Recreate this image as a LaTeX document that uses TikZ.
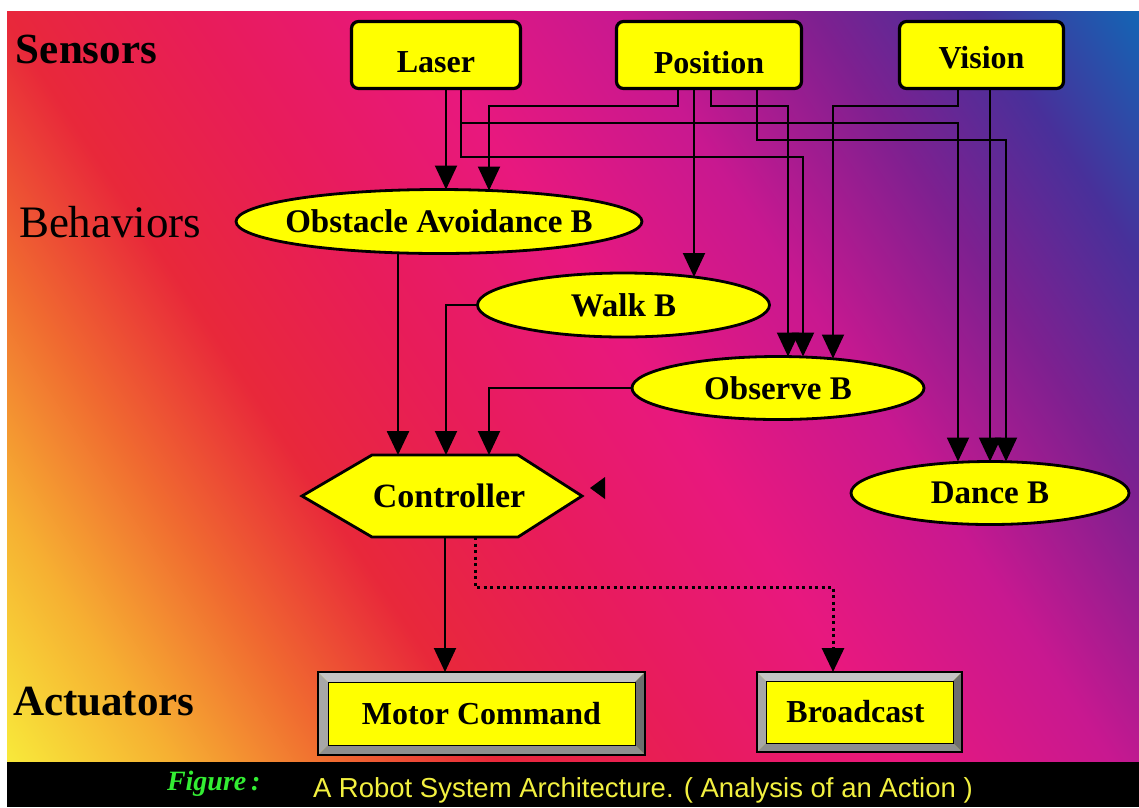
\documentclass[tikz,border=0pt]{standalone}
\usepackage{fontspec}
\setmainfont{Liberation Serif}
\newfontfamily\capfont{Liberation Sans}
\usetikzlibrary{arrows.meta,shapes.geometric}
\definecolor{ybox}{HTML}{FFFF00}
\definecolor{gA}{HTML}{F8E83A}
\definecolor{gB}{HTML}{F6B032}
\definecolor{gC}{HTML}{F06A30}
\definecolor{gD}{HTML}{E8283A}
\definecolor{gE}{HTML}{E81C5A}
\definecolor{gF}{HTML}{E8187E}
\definecolor{gG}{HTML}{C81890}
\definecolor{gH}{HTML}{7E2090}
\definecolor{gI}{HTML}{48309A}
\definecolor{gJ}{HTML}{1464B4}
\definecolor{bevlight}{HTML}{C4C4C4}
\definecolor{bevmid}{HTML}{8E8E8E}
\definecolor{bevdark}{HTML}{6E6E6E}
\definecolor{figgreen}{HTML}{33EE33}
\definecolor{capyellow}{HTML}{F2F040}
\pgfdeclarehorizontalshading{bgshade}{100bp}{color(0bp)=(gA); color(33bp)=(gA); color(36.4bp)=(gB); color(39.8bp)=(gC); color(43.2bp)=(gD); color(47.3bp)=(gE); color(51.7bp)=(gF); color(56.1bp)=(gG); color(60.2bp)=(gH); color(63.6bp)=(gI); color(67bp)=(gJ); color(100bp)=(gJ)}
\begin{document}
\begin{tikzpicture}[x=1pt,y=-1pt,
  every node/.style={inner sep=0pt, outer sep=0pt},
  sensorbox/.style={draw=black, fill=ybox, line width=3.2pt, rounded corners=7pt,
    minimum height=67pt, font=\fontsize{32}{38}\selectfont\bfseries},
  behav/.style={ellipse, draw=black, fill=ybox, line width=2.8pt,
    font=\fontsize{33}{40}\selectfont\bfseries},
  layerlabel/.style={anchor=base west, font=\fontsize{43}{50}\selectfont\bfseries},
  wire/.style={draw=black, line width=2pt, -{Triangle[width=22pt,length=24pt]}},
  dotwire/.style={wire, line width=3pt, dash pattern=on 3pt off 3.5pt},
  bevelbox/.style={fill=ybox, draw=black, line width=1.4pt,
    font=\fontsize{32}{38}\selectfont\bfseries,
    path picture={
      \fill[bevlight] (path picture bounding box.north west) -- (path picture bounding box.north east)
        -- ([shift={(-#1,-#1)}]path picture bounding box.north east)
        -- ([shift={(#1,-#1)}]path picture bounding box.north west) -- cycle;
      \fill[bevlight!85!black] (path picture bounding box.north west) -- (path picture bounding box.south west)
        -- ([shift={(#1,#1)}]path picture bounding box.south west)
        -- ([shift={(#1,-#1)}]path picture bounding box.north west) -- cycle;
      \fill[bevdark] (path picture bounding box.north east) -- (path picture bounding box.south east)
        -- ([shift={(-#1,#1)}]path picture bounding box.south east)
        -- ([shift={(-#1,-#1)}]path picture bounding box.north east) -- cycle;
      \fill[bevmid] (path picture bounding box.south west) -- (path picture bounding box.south east)
        -- ([shift={(-#1,#1)}]path picture bounding box.south east)
        -- ([shift={(#1,#1)}]path picture bounding box.south west) -- cycle;
      \draw[black, line width=0.8pt] ([shift={(#1,-#1)}]path picture bounding box.north west)
        rectangle ([shift={(-#1,#1)}]path picture bounding box.south east);
    }}
]
\useasboundingbox (0,0) rectangle (1139,807);
\fill[white] (0,0) rectangle (1139,807);
\begin{scope}
  \clip (7,11) rectangle (1139,762);
  \shade[shading=bgshade, shading angle=33.56] (-427,-613.5) rectangle (1573,1386.5);
\end{scope}
\fill[black] (7,762) rectangle (1139,807);

% layer labels
\node[layerlabel] (lsens) at (16,63) {Sensors};
\node[layerlabel, font=\fontsize{45}{50}\selectfont\mdseries] (lbeh) at (19,237) {Behaviors};
\node[layerlabel] (lact) at (13,715) {Actuators};

% sensors
\node[sensorbox, minimum width=169pt] (laser) at (436,55) {\raisebox{-17pt}[0pt][0pt]{Laser}};
\node[sensorbox, minimum width=185pt] (position) at (709,55) {\raisebox{-18pt}[0pt][0pt]{Position}};
\node[sensorbox, minimum width=164pt] (vision) at (981.5,55) {\raisebox{-13pt}[0pt][0pt]{Vision}};

% behaviors
\node[behav, minimum width=406pt, minimum height=64pt] (obst) at (439,221.5) {\makebox[0pt]{Obstacle Avoidance B}};
\node[behav, minimum width=292pt, minimum height=64pt] (walk) at (623.5,305) {\makebox[0pt]{Walk B}};
\node[behav, minimum width=292pt, minimum height=63pt] (observe) at (778,388) {\makebox[0pt]{Observe B}};
\node[behav, minimum width=278pt, minimum height=63pt] (dance) at (990,493) {\makebox[0pt]{Dance B}};

% controller
\node[minimum width=280pt, minimum height=82pt] (ctrl) at (442,496) {};
\filldraw[fill=ybox, draw=black, line width=2.8pt] (ctrl.west) -- ([xshift=-70pt]ctrl.north)
  -- ([xshift=76pt]ctrl.north) -- (ctrl.east) -- ([xshift=76pt]ctrl.south)
  -- ([xshift=-70pt]ctrl.south) -- cycle;
\node[font=\fontsize{34}{40}\selectfont\bfseries] (ctrltext) at ([xshift=7pt]ctrl.center) {Controller};
\fill[black] ([xshift=8pt,yshift=8pt]ctrl.east) -- ++(15,-11) -- ++(0,22) -- cycle;

% actuators
\node[bevelbox=10pt, minimum width=327pt, minimum height=83pt] (motor) at (481.5,713.5) {Motor Command};
\node[bevelbox=9pt, minimum width=205pt, minimum height=80pt] (bcast) at (859.5,712) {\hspace*{-8pt}Broadcast};

% sensor wires
\draw[wire] ([xshift=10pt]laser.south) -- ([xshift=7pt]obst.north);
\draw[wire] ([xshift=25pt]laser.south) -- ++(0,68.5) -| ([xshift=25pt]observe.north);
\draw[wire] ([xshift=25pt]laser.south) -- ++(0,34.5) -| ([xshift=-32pt]dance.north);
\draw[wire] ([xshift=-31pt]position.south) -- ++(0,17) -| ([xshift=50pt,yshift=-1pt]obst.north);
\draw[wire] ([xshift=-15pt]position.south) -- ([xshift=70.5pt,yshift=-4pt]walk.north);
\draw[wire] ([xshift=2pt]position.south) -- ++(0,17) -| ([xshift=10pt]observe.north);
\draw[wire] ([xshift=48pt]position.south) -- ++(0,51.5) -| ([xshift=16pt]dance.north);
\draw[wire] ([xshift=-23.5pt]vision.south) -- ++(0,17) -| ([xshift=55pt,yshift=-2pt]observe.north);
\draw[wire] ([xshift=8.5pt]vision.south) -- (dance.north);

% behavior wires
\draw[wire, line width=2.6pt] ([xshift=-41pt]obst.south) -- ([xshift=-44pt]ctrl.north);
\draw[wire] (walk.west) -| ([xshift=4pt]ctrl.north);
\draw[wire] (observe.west) -| ([xshift=47pt]ctrl.north);

% actuator wires
\draw[wire] ([xshift=3pt]ctrl.south) -- ([xshift=-36.5pt]motor.north);
\draw[dotwire] ([xshift=33pt]ctrl.south) -- ++(0,50) -| ([xshift=-26.5pt]bcast.north);

% caption
\node[anchor=base west, text=figgreen, font=\fontsize{28}{30}\selectfont\bfseries\itshape] (figlab) at (167,790) {Figure\,:};
\node[anchor=base west, text=capyellow, font=\capfont\fontsize{27.5}{30}\selectfont] (captext) at (313,797) {A Robot System Architecture. ( Analysis of an Action )};
\end{tikzpicture}
\end{document}
